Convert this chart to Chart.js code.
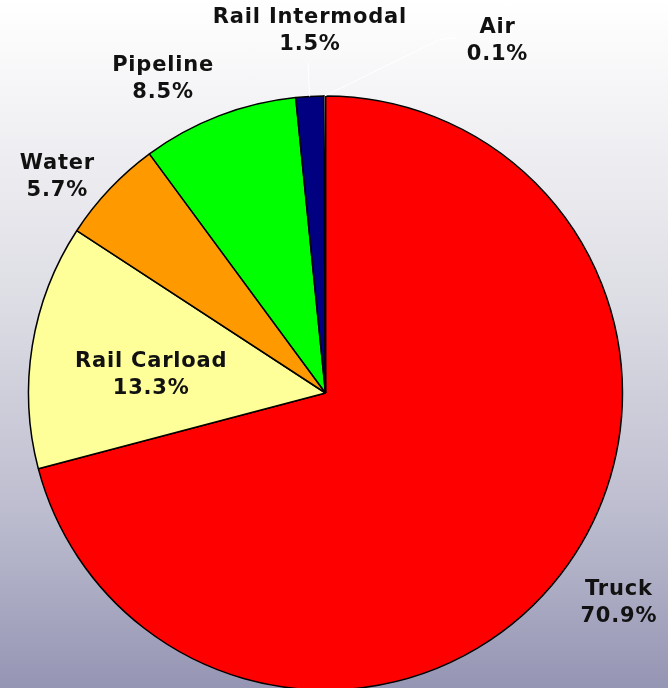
<!DOCTYPE html>
<html>
<head>
<meta charset="utf-8">
<script src="https://cdn.jsdelivr.net/npm/chart.js@4.4.1/dist/chart.umd.min.js"></script>
<style>
  html, body { margin: 0; padding: 0; overflow: hidden; }
  body {
    width: 668px; height: 688px;
    background: linear-gradient(to bottom, #ffffff 0%, #f6f6f8 12%, #dcdce4 45%, #bcbccf 75%, #9595b4 100%);
  }
  canvas { display: block; }
</style>
</head>
<body>
<canvas id="pieChart" width="668" height="688"></canvas>
<script>
const modes = ['Truck', 'Rail Carload', 'Water', 'Pipeline', 'Rail Intermodal', 'Air'];
const shares = [70.9, 13.3, 5.7, 8.5, 1.5, 0.1];
const sliceColors = ['#ff0000', '#ffff99', '#ff9900', '#00ff00', '#000080', '#ffffff'];

// where each label sits: radial factor of the radius, extra turn in degrees, leader line
const labelPlace = [
    { k: 1.215, turn: -2, leader: false },
    { k: 0.59, turn: -3.3, leader: false },
    { k: 1.16, turn: -4.5, leader: false },
    { k: 1.19, turn: -6.3, leader: false },
    { k: 1.22, turn: 0.6, leader: true },
    { k: 1.32, turn: 26.2, leader: true }
];

const labelPlugin = {
    id: 'sliceLabels',
    afterDatasetsDraw(chart) {
        const ctx = chart.ctx;
        const arcs = chart.getDatasetMeta(0).data;
        ctx.save();
        ctx.font = 'bold 21px "DejaVu Sans", Verdana, sans-serif';
        ctx.letterSpacing = '0.8px';
        ctx.textAlign = 'center';
        ctx.textBaseline = 'middle';
        arcs.forEach((arc, i) => {
            const p = arc.getProps(['x', 'y', 'startAngle', 'endAngle', 'outerRadius'], true);
            const mid = (p.startAngle + p.endAngle) / 2;
            const place = labelPlace[i];
            const a = mid + place.turn * Math.PI / 180;
            const lx = p.x + Math.cos(a) * p.outerRadius * place.k;
            const ly = p.y + Math.sin(a) * p.outerRadius * place.k;
            if (place.leader) {
                ctx.strokeStyle = '#ffffff';
                ctx.lineWidth = 1;
                ctx.beginPath();
                const sx = p.x + Math.cos(mid) * p.outerRadius;
                const sy = p.y + Math.sin(mid) * p.outerRadius;
                ctx.moveTo(sx, sy);
                if (i === 5) {
                    ctx.lineTo(lx - 58, ly - 1);
                    ctx.lineTo(lx - 41, ly - 3);
                } else {
                    ctx.lineTo(lx - 2, ly + 32);
                }
                ctx.stroke();
            }
            ctx.fillStyle = '#111111';
            ctx.fillText(modes[i], lx, ly - 13.5);
            ctx.fillText(shares[i].toFixed(1) + '%', lx, ly + 13.5);
        });
        ctx.restore();
    }
};

new Chart(document.getElementById('pieChart').getContext('2d'), {
    type: 'pie',
    data: {
        labels: modes,
        datasets: [{
            data: shares,
            backgroundColor: sliceColors,
            borderColor: '#000000',
            borderWidth: 1.5
        }]
    },
    options: {
        responsive: false,
        animation: false,
        radius: 297,
        layout: { padding: { left: 28, right: 45, top: 98, bottom: 0 } },
        plugins: {
            legend: { display: false },
            tooltip: { enabled: false }
        }
    },
    plugins: [labelPlugin]
});
</script>
</body>
</html>
